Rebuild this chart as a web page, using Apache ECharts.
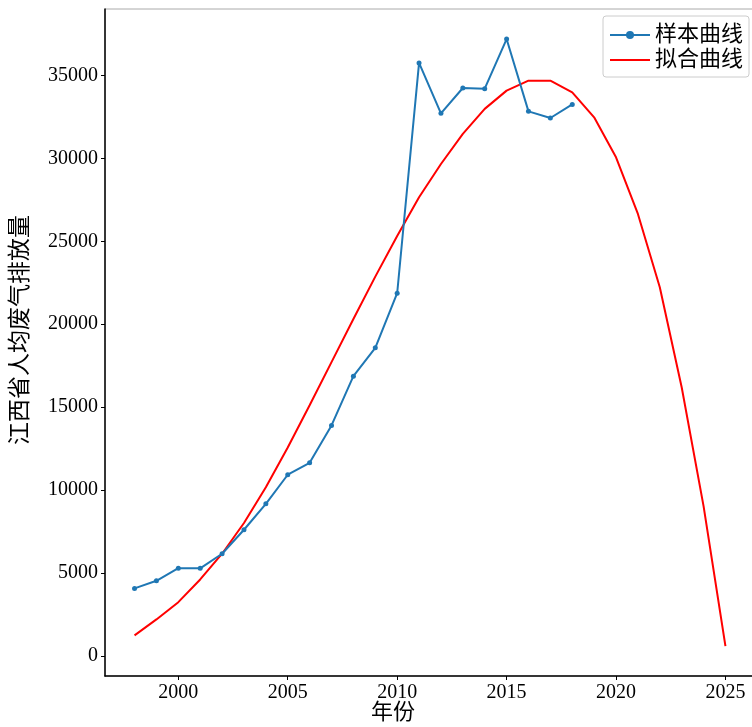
<!DOCTYPE html>
<html>
<head>
<meta charset="utf-8">
<script src="https://cdn.jsdelivr.net/npm/echarts@6/dist/echarts.min.js"></script>
<style>
html,body{margin:0;padding:0;background:#fff;}
#chart{width:752px;height:727px;}
</style>
</head>
<body>
<div id="chart"></div>
<script>
const sampleYears = [1998,1999,2000,2001,2002,2003,2004,2005,2006,2007,2008,2009,2010,2011,2012,2013,2014,2015,2016,2017,2018];
const sampleValues = [4080,4540,5300,5290,6170,7615,9180,10930,11650,13900,16870,18580,21870,35750,32710,34240,34200,37190,32830,32430,33250];
const fitYears = [1998,1999,2000,2001,2002,2003,2004,2005,2006,2007,2008,2009,2010,2011,2012,2013,2014,2015,2016,2017,2018,2019,2020,2021,2022,2023,2024,2025];
const fitValues = [1250,2210,3250,4620,6170,8020,10170,12570,15120,17720,20320,22870,25320,27650,29660,31470,32980,34080,34680,34680,33980,32470,30060,26650,22230,16200,9040,600];
const xTicks = [2000,2005,2010,2015,2020,2025];
const yTicks = [0,5000,10000,15000,20000,25000,30000,35000];
const seriesNames = ['样本曲线','拟合曲线'];
const xName = '年份';
const yName = '江西省人均废气排放量';

const FONT = "'Liberation Serif', 'Noto Sans CJK SC', serif";
const chart = echarts.init(document.getElementById('chart'));
chart.setOption({
  animation: false,
  backgroundColor: '#fff',
  grid: {left: 105, right: -3, top: 9, bottom: 51, show: true, borderColor: '#aaa', borderWidth: 1,
    containLabel: false, outerBoundsMode: 'none'},
  legend: {
    data: [
      {name: seriesNames[0]},
      {name: seriesNames[1], itemStyle: {opacity: 0}}
    ],
    orient: 'vertical',
    left: 603, top: 16,
    itemWidth: 40, itemHeight: 10, itemGap: 3,
    padding: [8, 6, 6, 6],
    backgroundColor: '#fff',
    borderColor: '#ccc', borderWidth: 1, borderRadius: 3,
    textStyle: {fontSize: 22, fontFamily: FONT, color: '#000'}
  },
  xAxis: {
    type: 'value', min: 1996.65, max: 2026.35,
    name: xName, nameLocation: 'middle', nameGap: 26, nameMoveOverlap: false,
    nameTextStyle: {fontSize: 22, fontFamily: FONT, color: '#000', padding: [0, 74, 0, 0]},
    axisLine: {show: true, onZero: false, lineStyle: {color: '#000', width: 1.5}},
    axisTick: {show: true, length: 4, customValues: xTicks, lineStyle: {color: '#000'}},
    axisLabel: {customValues: xTicks, fontSize: 20, fontFamily: FONT, color: '#000', margin: 7,
      formatter: v => String(v)},
    splitLine: {show: false}
  },
  yAxis: {
    type: 'value', min: -1200, max: 39000,
    name: yName, nameLocation: 'middle', nameGap: 73, nameMoveOverlap: false,
    nameTextStyle: {fontSize: 23, fontFamily: FONT, color: '#000', padding: [0, 0, 0, 25]},
    axisLine: {show: true, onZero: false, lineStyle: {color: '#000', width: 1.5}},
    axisTick: {show: true, length: 4, customValues: yTicks, lineStyle: {color: '#000'}},
    axisLabel: {customValues: yTicks, fontSize: 20, fontFamily: FONT, color: '#000', margin: 7,
      formatter: v => String(v)},
    splitLine: {show: false}
  },
  series: [
    {
      name: seriesNames[0], type: 'line',
      data: sampleYears.map((y, i) => [y, sampleValues[i]]),
      symbol: 'circle', symbolSize: 5, showSymbol: true,
      itemStyle: {color: '#1f77b4'},
      lineStyle: {color: '#1f77b4', width: 2},
      z: 3
    },
    {
      name: seriesNames[1], type: 'line',
      data: fitYears.map((y, i) => [y, fitValues[i]]),
      symbol: 'none',
      itemStyle: {color: '#ff0000'},
      lineStyle: {color: '#ff0000', width: 2},
      z: 2
    }
  ]
});
</script>
</body>
</html>
